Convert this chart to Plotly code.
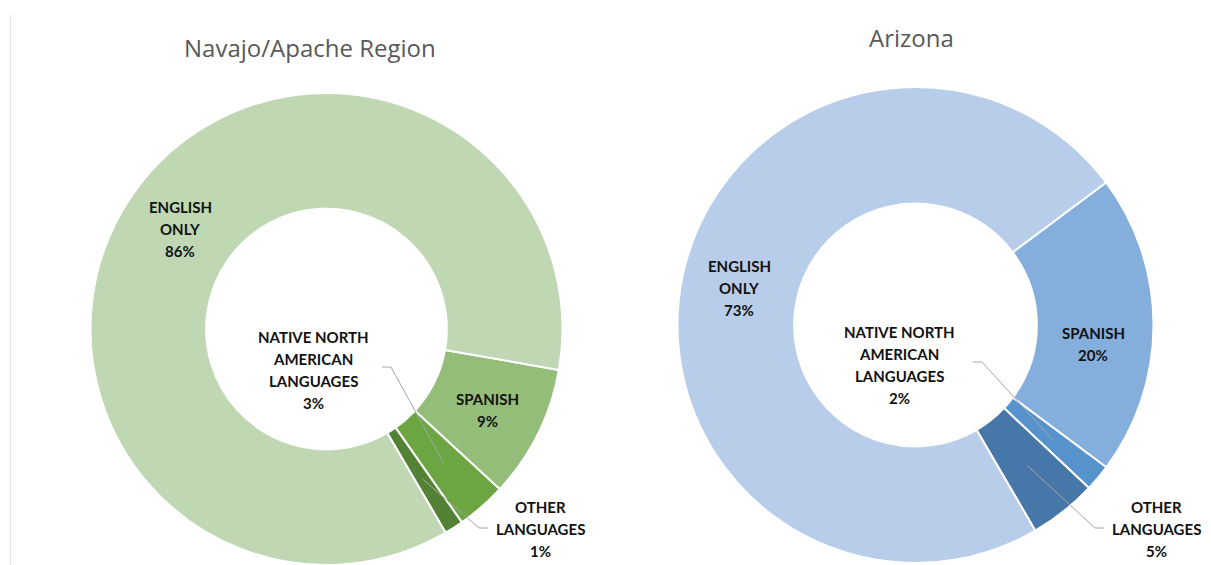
import math
import plotly.graph_objects as go

W, H = 1211, 565

# slice order is clockwise starting at the Spanish slice
categories = ["Spanish", "Native North American Languages", "Other Languages", "English only"]
label_lines = [["SPANISH"], ["NATIVE NORTH", "AMERICAN", "LANGUAGES"], ["OTHER", "LANGUAGES"], ["ENGLISH", "ONLY"]]

region_title = "Navajo/Apache Region"
region_values = [9.1, 3.4, 1.3, 86.2]
region_colors = ["#93BD79", "#6BA642", "#548235", "#BFD7B3"]

az_title = "Arizona"
az_values = [20.4, 1.8, 4.6, 73.1]
az_colors = ["#84AEDC", "#5692CB", "#4677A8", "#B8CDE9"]


def px(x):
    return x / W


def py(y):
    return 1 - y / H


# donut geometry in pixels: centre x, centre y, radius, start angle
charts = [
    dict(title=region_title, values=region_values, colors=region_colors,
         cx=326.5, cy=329, r=236, rot=100, title_xy=(310, 47),
         # label centre x, first line y
         labels=[(487, 399), (313, 337), (540, 507), (180, 207)]),
    dict(title=az_title, values=az_values, colors=az_colors,
         cx=915.5, cy=325, r=238, rot=53.2, title_xy=(911, 38),
         labels=[(1093, 333), (899, 332), (1156, 507), (739, 266)]),
]

fig = go.Figure()
annotations = []
shapes = []

for c in charts:
    fig.add_trace(go.Pie(
        labels=categories, values=c["values"], sort=False, direction="clockwise",
        rotation=c["rot"], hole=0.51, textinfo="none", hoverinfo="label+percent",
        marker=dict(colors=c["colors"], line=dict(color="white", width=2)),
        domain=dict(x=[px(c["cx"] - c["r"]), px(c["cx"] + c["r"])],
                    y=[max(0, py(c["cy"] + c["r"])), py(c["cy"] - c["r"])]),
        showlegend=False,
    ))
    annotations.append(dict(
        text=c["title"], x=px(c["title_xy"][0]), y=py(c["title_xy"][1]),
        xref="paper", yref="paper", showarrow=False, xanchor="center", yanchor="middle",
        font=dict(family="Open Sans", size=24, color="#595959")))

    total = sum(c["values"])
    start = c["rot"]
    anchors = []
    for i, v in enumerate(c["values"]):
        mid = start + 360 * v / total / 2
        start += 360 * v / total
        a = math.radians(mid)
        anchors.append((c["cx"] + 0.755 * c["r"] * math.sin(a),
                        c["cy"] - 0.755 * c["r"] * math.cos(a)))
        lines = label_lines[i] + [f"{round(v / total * 100)}%"]
        lx, ly = c["labels"][i]
        for k, t in enumerate(lines):
            annotations.append(dict(
                text=f"<b>{t}</b>", x=px(lx), y=py(ly + 22 * k),
                xref="paper", yref="paper", showarrow=False,
                xanchor="center", yanchor="middle",
                font=dict(family="Lato", size=15, color="#111111")))

    # leader lines for the two thin slices
    lx, ly = c["labels"][1]
    nx, ny = anchors[1]
    x0 = lx + 69 if c is charts[0] else lx + 74
    y0 = ly + 30
    shapes.append(dict(type="path", xref="paper", yref="paper",
                       path=f"M {px(x0)},{py(y0)} L {px(x0 + 9)},{py(y0)} L {px(nx)},{py(ny)}",
                       line=dict(color="#A6A6A6", width=1)))
    lx, ly = c["labels"][2]
    ox, oy = anchors[2]
    x1 = lx - 52
    y1 = ly + 21
    shapes.append(dict(type="path", xref="paper", yref="paper",
                       path=f"M {px(ox)},{py(oy)} L {px(x1 - 9)},{py(y1)} L {px(x1)},{py(y1)}",
                       line=dict(color="#A6A6A6", width=1)))

# faint chart frame edge on the left
shapes.append(dict(type="line", xref="paper", yref="paper",
                   x0=px(10.5), x1=px(10.5), y0=0, y1=py(15),
                   line=dict(color="#E3E3E3", width=1)))

fig.update_layout(
    width=W, height=H, margin=dict(l=0, r=0, t=0, b=0),
    paper_bgcolor="white", plot_bgcolor="white",
    annotations=annotations, shapes=shapes,
)

# drop the browser's default body margin so the figure fills the window
fig.write_html("out.html", config={"displayModeBar": False},
               post_script="document.body.style.margin='0';document.body.style.overflow='hidden';")
